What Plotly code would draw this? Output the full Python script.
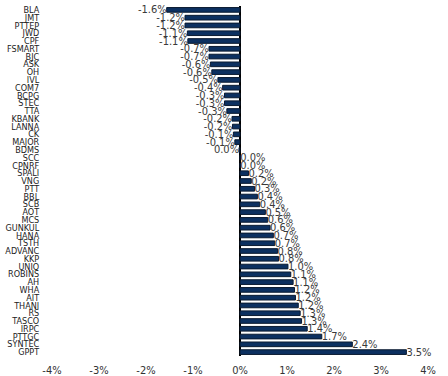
import plotly.graph_objects as go

categories = ["BLA", "JMT", "PTTEP", "JWD", "CPF", "FSMART", "BJC", "ASK", "OH", "IVL",
              "COM7", "BCPG", "STEC", "TTA", "KBANK", "LANNA", "CK", "MAJOR", "BDMS", "SCC",
              "CPNRF", "SPALI", "VNG", "PTT", "BBL", "SCB", "AOT", "MCS", "GUNKUL", "HANA",
              "TSTH", "ADVANC", "KKP", "UNIQ", "ROBINS", "AH", "WHA", "AIT", "THANI", "RS",
              "TASCO", "IRPC", "PTTGC", "SYNTEC", "GPPT"]
values = [-1.56, -1.17, -1.17, -1.12, -1.11, -0.66, -0.66, -0.63, -0.60, -0.47,
          -0.37, -0.33, -0.33, -0.28, -0.17, -0.16, -0.14, -0.11, -0.02, 0.004,
          0.004, 0.18, 0.24, 0.31, 0.37, 0.42, 0.54, 0.59, 0.64, 0.71,
          0.74, 0.80, 0.82, 1.02, 1.08, 1.13, 1.16, 1.18, 1.24, 1.28,
          1.31, 1.43, 1.74, 2.39, 3.54]
labels = [f"{v:.1f}%" for v in values]
labels = ["0.0%" if l == "-0.0%" else l for l in labels]

tick_vals = [-4, -3, -2, -1, 0, 1, 2, 3, 4]
tick_text = ["-4%", "-3%", "-2%", "-1%", "0%", "1%", "2%", "3%", "4%"]

FONT = "DejaVu Sans Condensed, DejaVu Sans, sans-serif"

fig = go.Figure(go.Bar(
    x=values, y=categories, orientation="h",
    marker=dict(color="#0c3060", line=dict(color="#0a1a30", width=1)),
    text=labels, textposition="outside", cliponaxis=False, constraintext="none",
    textfont=dict(family=FONT, size=11, color="#3a3a3a"),
    width=0.6,
))

fig.update_layout(
    width=448, height=376,
    margin=dict(l=52, r=20, t=6, b=20, autoexpand=False),
    paper_bgcolor="white", plot_bgcolor="white",
    showlegend=False,
    font=dict(family=FONT, color="#222"),
    xaxis=dict(range=[-4, 4], tickvals=tick_vals, ticktext=tick_text, automargin=False,
               showgrid=False, zeroline=True, zerolinecolor="black", zerolinewidth=2,
               showline=False, tickfont=dict(family=FONT, size=11, color="#333"),
               ticks="outside", ticklen=4, tickcolor="rgba(0,0,0,0)", fixedrange=True),
    yaxis=dict(categoryorder="array", categoryarray=categories, autorange="reversed",
               tickmode="array", tickvals=categories, ticktext=categories, automargin=False,
               showgrid=False, showline=False, zeroline=False,
               tickfont=dict(family=FONT, size=9, color="#222"),
               ticks="outside", ticklen=10, tickcolor="rgba(0,0,0,0)", fixedrange=True),
)

fig.write_html("out.html", config={"displayModeBar": False})
